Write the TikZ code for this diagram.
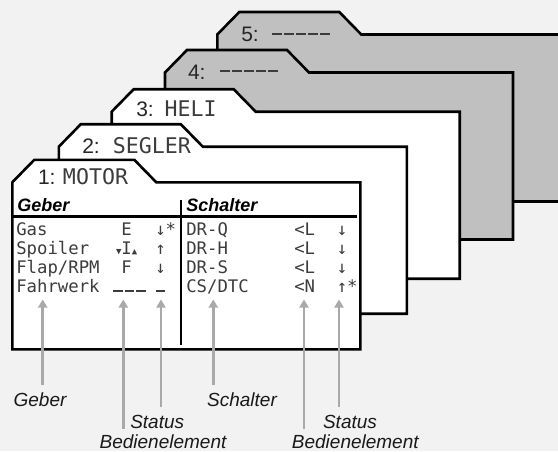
\documentclass[tikz,border=0pt]{standalone}
\usepackage{fontspec}
\setmainfont{Liberation Sans}
\newfontfamily\lcdfont{DejaVu Sans Mono}
\usetikzlibrary{arrows.meta,positioning,calc}
\definecolor{paper}{HTML}{F2F2F2}
\definecolor{tabgray}{HTML}{C0C0C0}
\definecolor{pointgray}{HTML}{A9A9A9}
\definecolor{lcdink}{HTML}{3C3C3C}

\begin{document}
\begin{tikzpicture}[x=1pt, y=-1pt, line width=2.6pt,
    card/.style={draw=black, fill=white},
    lcd/.style={font=\lcdfont\fontsize{17.3}{18}\selectfont, text=lcdink, inner sep=0pt, anchor=base west},
    tablcd/.style={lcd, font=\lcdfont\fontsize{21.6}{22}\selectfont},
    tabno/.style={font=\fontsize{21}{22}\selectfont, text=black!85, inner sep=0pt, anchor=base west},
    colhead/.style={font=\fontsize{18}{20}\selectfont\bfseries\itshape, inner sep=0pt, anchor=base west},
    callout/.style={font=\fontsize{19}{20}\selectfont\itshape, text=black!90, inner sep=0pt, anchor=base},
    pointer/.style={draw=pointgray, line width=2.6pt, -{Triangle[width=9pt,length=8pt]}}]
  \fill[paper] (0,0) rectangle (558,451);
  \useasboundingbox (0,0) rectangle (558,451);
  % model cards, back to front: left edge, top of body, fill
  \newcommand{\regcard}[3]{\path[card, fill=#3] (#1,#2) -- ++(22,-22.5) -- ++(100,0) -- ++(22,22.5) -- ++(204,0) -- ++(0,167) -- ++(-348,0) -- cycle;}
  \newcommand{\lcdsym}[1]{{\fontsize{9}{9}\selectfont #1}}
  % dot-matrix dash: width, raise
  \newcommand{\lcdbar}[2]{\rule[#2]{#1}{2pt}\kern2pt}
  \regcard{217.3}{34.5}{tabgray}
  \regcard{165}{72.5}{tabgray}
  \regcard{111.7}{111.7}{white}
  \regcard{58.8}{146.7}{white}
  \regcard{12.3}{182.3}{white}
  \node[tabno] (no5) at (240,41.5) {5:};
  \node[tablcd] (name5) at (271,41.5) {\lcdbar{10pt}{7pt}\lcdbar{10pt}{7pt}\lcdbar{10pt}{7pt}\lcdbar{10pt}{7pt}\lcdbar{10pt}{7pt}};
  \node[tabno] (no4) at (186.7,79) {4:};
  \node[tablcd] (name4) at (218.3,79) {\lcdbar{10pt}{7pt}\lcdbar{10pt}{7pt}\lcdbar{10pt}{7pt}\lcdbar{10pt}{7pt}\lcdbar{10pt}{7pt}};
  \node[tabno] (no3) at (135,116.7) {3:};
  \node[tablcd] (name3) at (163.3,116.7) {HELI};
  \node[tabno] (no2) at (81,153.5) {2:};
  \node[tablcd] (name2) at (111.5,153.5) {SEGLER};
  \node[tabno] (no1) at (36.7,184.5) {1:};
  \node[tablcd] (name1) at (61.7,184.5) {MOTOR};
  % table of the front card
  \node[colhead] (geberhd) at (16,211.5) {Geber};
  \node[colhead] (schalterhd) at (185,211.5) {Schalter};
  \draw (12.3,216.5) -- (356.7,216.5);
  \draw (181,199.5) -- (181,344.5);
  \node[lcd] (gas) at (15,235) {Gas};
  \node[lcd] (spoiler) at (15,254) {Spoiler};
  \node[lcd] (flap) at (15,273.3) {Flap/RPM};
  \node[lcd] (fahrwerk) at (15,292.5) {Fahrwerk};
  \node[lcd, anchor=base] (gasel) at (126.7,235) {E};
  \node[lcd, anchor=base] (spoilerel) at (126.7,254) {\lcdsym{▼}I\lcdsym{▲}};
  \node[lcd, anchor=base] (flapel) at (126.7,273.3) {F};
  \node[lcd] (fahrwerkel) at (111.7,292.5) {\lcdbar{9.5pt}{0.8pt}\lcdbar{9.5pt}{0.8pt}\lcdbar{9.5pt}{0.8pt}};
  \node[lcd] (gasst) at (154,235) {↓*};
  \node[lcd] (spoilerst) at (154,254) {↑};
  \node[lcd] (flapst) at (154,273.3) {↓};
  \node[lcd] (fahrwerkst) at (155,292.5) {\lcdbar{8.3pt}{0.8pt}};
  \node[lcd] (drq) at (185,235) {DR-Q};
  \node[lcd] (drh) at (185,254) {DR-H};
  \node[lcd] (drs) at (185,273.3) {DR-S};
  \node[lcd] (csdtc) at (185,292.5) {CS/DTC};
  \node[lcd] (drqsw) at (293,235) {<L};
  \node[lcd] (drhsw) at (293,254) {<L};
  \node[lcd] (drssw) at (293,273.3) {<L};
  \node[lcd] (csdtcsw) at (293,292.5) {<N};
  \node[lcd] (drqst) at (335.5,235) {↓};
  \node[lcd] (drhst) at (335.5,254) {↓};
  \node[lcd] (drsst) at (335.5,273.3) {↓};
  \node[lcd] (csdtcst) at (335.5,292.5) {↑*};
  % callouts below the card
  \coordinate (geberTip) at (42.7,299.5);
  \coordinate (bedienTipA) at (123.3,299.5);
  \coordinate (statusTipA) at (161,299.5);
  \coordinate (schalterTip) at (213.3,299.5);
  \coordinate (bedienTipB) at (304,299.5);
  \coordinate (statusTipB) at (339,299.5);
  \node[callout] (geberLbl) at (40,406.7) {Geber};
  \node[callout] (schalterLbl) at (242,406.7) {Schalter};
  \node[callout] (statusLblA) at (157.2,428) {Status};
  \node[callout] (bedienLblA) at (163,448) {Bedienelement};
  \node[callout] (statusLblB) at (350,428) {Status};
  \node[callout] (bedienLblB) at (355.3,448) {Bedienelement};
  \draw[pointer] ($(geberLbl.north -| geberTip)+(0,-7)$) -- (geberTip);
  \draw[pointer] ($(bedienLblA.north -| bedienTipA)+(0,-4)$) -- (bedienTipA);
  \draw[pointer] ($(statusLblA.north -| statusTipA)+(0,-6)$) -- (statusTipA);
  \draw[pointer] ($(schalterLbl.north -| schalterTip)+(0,-7)$) -- (schalterTip);
  \draw[pointer] ($(bedienLblB.north -| bedienTipB)+(0,-4)$) -- (bedienTipB);
  \draw[pointer] ($(statusLblB.north -| statusTipB)+(0,-6)$) -- (statusTipB);
\end{tikzpicture}
\end{document}
